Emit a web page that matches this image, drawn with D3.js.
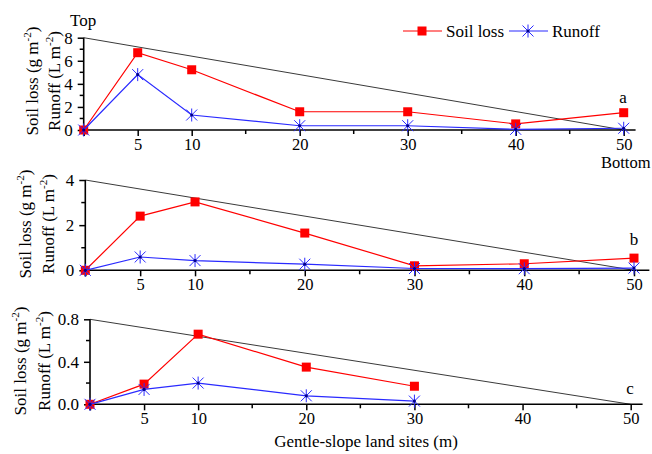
<!DOCTYPE html>
<html>
<head>
<meta charset="utf-8">
<script src="https://cdn.jsdelivr.net/npm/d3@7"></script>
<style>
  html, body { margin: 0; padding: 0; background: #fff; }
  svg text { font-family: "Liberation Serif", "Times New Roman", serif; fill: #000; }
</style>
</head>
<body>
<div id="chart"></div>
<script>
// sites along the slope (m)
var sites = [0, 5, 10, 20, 30, 40, 50];
var sitesC = [0, 5, 10, 20, 30];

// panel a
var soilA = [0, 6.7, 5.22, 1.58, 1.58, 0.53, 1.5];
var runoffA = [0, 4.8, 1.3, 0.37, 0.37, 0.06, 0.15];
// panel b
var soilB = [0, 2.4, 3.03, 1.65, 0.2, 0.29, 0.54];
var runoffB = [0, 0.59, 0.43, 0.27, 0.08, 0.07, 0.1];
// panel c
var soilC = [0, 0.19, 0.66, 0.35, 0.17];
var runoffC = [0, 0.14, 0.2, 0.08, 0.03];

// slope reference line (top -> bottom)
var slopeA = [[0, 8], [50, 0]];
var slopeB = [[0, 4], [50, 0]];
var slopeC = [[0, 0.8], [50, 0]];

var xTicks = [5, 10, 20, 30, 40, 50];
var xMinor = [15, 25, 35, 45];
var yTicksA = [0, 2, 4, 6, 8], yMinorA = [1, 3, 5, 7];
var yTicksB = [0, 2, 4], yMinorB = [1, 3];
var yTicksC = [0, 0.4, 0.8], yMinorC = [0.2, 0.6];

var width = 652, height = 454;
var RED = "#ff0000", BLUE = "#2a2aff";

var svg = d3.select("#chart").append("svg")
    .attr("width", width)
    .attr("height", height);

var panels = [
    {x: sites, soil: soilA, runoff: runoffA, slope: slopeA, yMax: 8, yt: yTicksA, ym: yMinorA, fmt: d3.format("d"),
     left: 83.7, right: 623.7, top: 37.7, bottom: 130, axEnd: 51.1, tag: "a", tagX: 623, tagY: 103,
     t1x: 38, t2x: 60, tcy: 81},
    {x: sites, soil: soilB, runoff: runoffB, slope: slopeB, yMax: 4, yt: yTicksB, ym: yMinorB, fmt: d3.format("d"),
     left: 85.3, right: 634, top: 180, bottom: 270.3, axEnd: 51.4, tag: "b", tagX: 634, tagY: 245,
     t1x: 31, t2x: 54, tcy: 224},
    {x: sitesC, soil: soilC, runoff: runoffC, slope: slopeC, yMax: 0.8, yt: yTicksC, ym: yMinorC, fmt: d3.format(".1f"),
     left: 90, right: 630.7, top: 319.3, bottom: 404.3, axEnd: 51.1, tag: "c", tagX: 630, tagY: 394,
     t1x: 26, t2x: 50, tcy: 361}
];

function drawSquare(g, cx, cy) {
    g.append("rect")
        .attr("x", cx - 4.5).attr("y", cy - 4.5)
        .attr("width", 9).attr("height", 9)
        .attr("fill", RED);
}

function drawStar(g, cx, cy) {
    var r = 5.5;
    var p = "M" + (cx - r) + "," + (cy - r) + "L" + (cx + r) + "," + (cy + r) +
            "M" + (cx - r) + "," + (cy + r) + "L" + (cx + r) + "," + (cy - r) +
            "M" + cx + "," + (cy - r - 1) + "L" + cx + "," + (cy + r + 1);
    g.append("path").attr("d", p).attr("stroke", BLUE).attr("stroke-width", 1).attr("fill", "none");
    g.append("circle").attr("cx", cx).attr("cy", cy).attr("r", 1.6).attr("fill", "#00008b");
}

panels.forEach(function (p) {
    var x = d3.scaleLinear().domain([0, 50]).range([p.left, p.right]);
    var y = d3.scaleLinear().domain([0, p.yMax]).range([p.bottom, p.top]);
    var g = svg.append("g");

    // slope reference line
    g.append("path")
        .datum(p.slope)
        .attr("d", d3.line().x(function (d) { return x(d[0]); }).y(function (d) { return y(d[1]); }))
        .attr("stroke", "#3a3a3a").attr("stroke-width", 1).attr("fill", "none");

    // x axis
    var xAxis = d3.axisBottom(x).tickValues([0].concat(xTicks)).tickSize(6).tickSizeOuter(0)
        .tickFormat(function (d) { return d === 0 ? "" : d; });
    var gx = g.append("g").attr("transform", "translate(0," + p.bottom + ")").call(xAxis);
    gx.select(".domain").attr("d", "M" + x(0) + ",0H" + x(p.axEnd));
    gx.append("g").selectAll("line").data(xMinor).enter().append("line")
        .attr("x1", function (d) { return x(d); }).attr("x2", function (d) { return x(d); })
        .attr("y1", 0).attr("y2", 4).attr("stroke", "#000").attr("stroke-width", 1.5);
    gx.selectAll(".tick line").attr("stroke-width", 1.5);
    gx.selectAll(".domain").attr("stroke-width", 1.6);
    gx.selectAll(".tick text").attr("font-size", 16.5).attr("y", 8).attr("dy", "0.71em")
        .style("font-family", "'Liberation Serif', serif");

    // y axis
    var yAxis = d3.axisLeft(y).tickValues(p.yt).tickSize(6).tickSizeOuter(0).tickFormat(p.fmt);
    var gy = g.append("g").attr("transform", "translate(" + p.left + ",0)").call(yAxis);
    gy.select(".domain").attr("d", "M0," + p.top + "V" + (p.bottom + 6));
    gy.append("g").selectAll("line").data(p.ym).enter().append("line")
        .attr("y1", function (d) { return y(d); }).attr("y2", function (d) { return y(d); })
        .attr("x1", 0).attr("x2", -4).attr("stroke", "#000").attr("stroke-width", 1.5);
    gy.selectAll(".tick line").attr("stroke-width", 1.5);
    gy.selectAll(".domain").attr("stroke-width", 1.6);
    gy.selectAll(".tick text").attr("font-size", 17).attr("x", -11)
        .style("font-family", "'Liberation Serif', serif");

    var line = d3.line()
        .x(function (d, i) { return x(p.x[i]); })
        .y(function (d) { return y(d); });

    // soil loss
    g.append("path").datum(p.soil).attr("d", line)
        .attr("stroke", RED).attr("stroke-width", 1.2).attr("fill", "none");
    p.soil.forEach(function (v, i) { drawSquare(g, x(p.x[i]), y(v)); });

    // runoff
    g.append("path").datum(p.runoff).attr("d", line)
        .attr("stroke", BLUE).attr("stroke-width", 1.2).attr("fill", "none");
    p.runoff.forEach(function (v, i) { drawStar(g, x(p.x[i]), y(v)); });

    // panel tag
    g.append("text").attr("x", p.tagX).attr("y", p.tagY).attr("text-anchor", "middle")
        .attr("font-size", 17).text(p.tag);

    // y titles
    var t1 = g.append("text").attr("transform", "translate(" + p.t1x + "," + p.tcy + ") rotate(-90)")
        .attr("text-anchor", "middle").attr("font-size", 17);
    t1.append("tspan").text("Soil loss (g m");
    t1.append("tspan").attr("font-size", 11).attr("dy", -7).text("-2");
    t1.append("tspan").attr("dy", 7).text(")");
    var t2 = g.append("text").attr("transform", "translate(" + p.t2x + "," + p.tcy + ") rotate(-90)")
        .attr("text-anchor", "middle").attr("font-size", 17);
    t2.append("tspan").text("Runoff (L m");
    t2.append("tspan").attr("font-size", 11).attr("dy", -7).text("-2");
    t2.append("tspan").attr("dy", 7).text(")");
});

// Top / Bottom labels
svg.append("text").attr("x", 70).attr("y", 26).attr("font-size", 17).text("Top");
svg.append("text").attr("x", 601).attr("y", 168).attr("font-size", 16.5).text("Bottom");

// x title
svg.append("text").attr("x", 366).attr("y", 447).attr("text-anchor", "middle")
    .attr("font-size", 17).text("Gentle-slope land sites (m)");

// legend
var lg = svg.append("g");
lg.append("line").attr("x1", 403).attr("x2", 442).attr("y1", 31).attr("y2", 31)
    .attr("stroke", RED).attr("stroke-width", 1.2);
drawSquare(lg, 422, 31);
lg.append("text").attr("x", 446).attr("y", 37).attr("font-size", 17).text("Soil loss");
lg.append("line").attr("x1", 509).attr("x2", 548).attr("y1", 31).attr("y2", 31)
    .attr("stroke", BLUE).attr("stroke-width", 1.2);
drawStar(lg, 528, 31);
lg.append("text").attr("x", 552).attr("y", 37).attr("font-size", 17).text("Runoff");
</script>
</body>
</html>
